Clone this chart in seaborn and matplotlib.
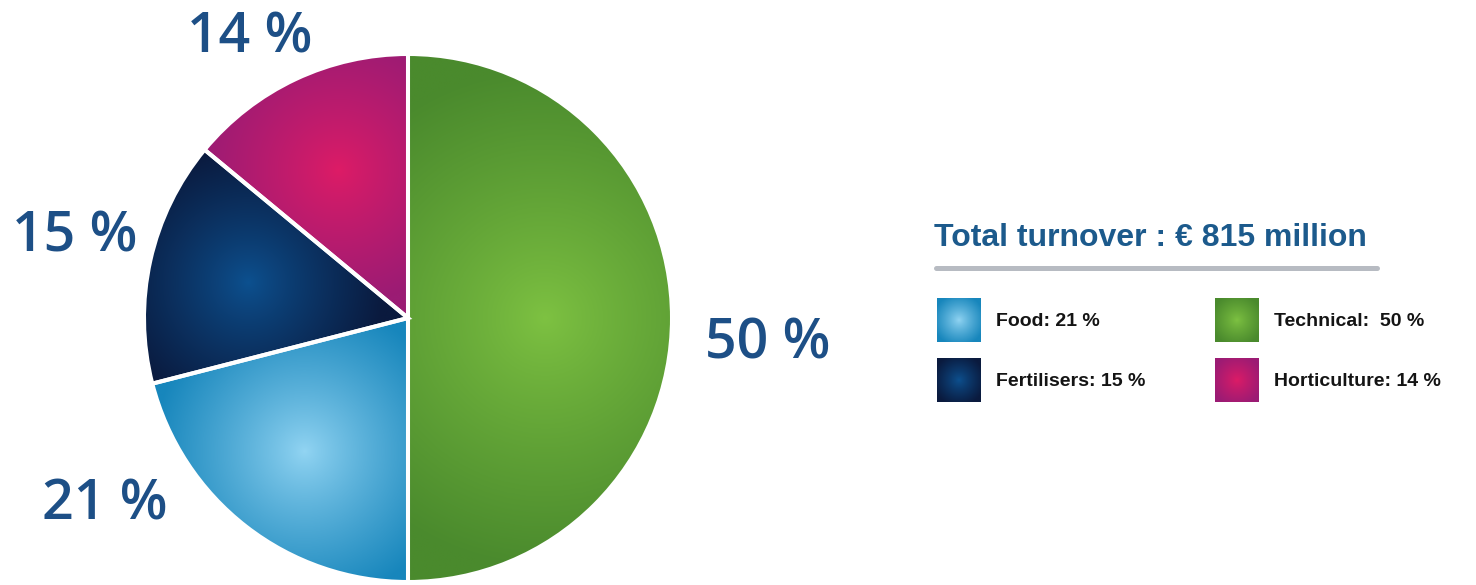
import numpy as np
import matplotlib
matplotlib.use("Agg")
import matplotlib.pyplot as plt
from matplotlib.lines import Line2D
import seaborn as sns

# ---- data -------------------------------------------------------------
categories = ["Technical", "Food", "Fertilisers", "Horticulture"]
shares = [50, 21, 15, 14]            # % of turnover
total_turnover = 815                 # € million
label_gaps = [2, 1, 1, 1]            # spaces after the colon in the key

# ---- styling ----------------------------------------------------------
centre_colors = ["#7ec242", "#93d5f3", "#0d5190", "#de1b66"]
edge_colors = ["#4a8a2d", "#1786bc", "#0a1a3e", "#9b1c74"]
spot_radius = [0.52, 0.64, 0.62, 0.62]   # where each slice is brightest
spread = [0.95, 0.58, 0.52, 0.52]        # fall-off distance of the highlight
label_xy = [(1.364, -0.152), (-1.148, -0.765), (-1.261, 0.25), (-0.598, 1.004)]
label_color = "#1d4f86"
title_color = "#1c5a8c"

sns.set_theme(style="white")
plt.rcParams["font.family"] = ["Liberation Sans", "DejaVu Sans"]

W, H = 1476, 585
fig = plt.figure(figsize=(W / 100, H / 100), dpi=100)
fig.patch.set_facecolor("white")

# pie axes: centre (408, 318) px, radius 264 px
cx, cy, R = 408, 318, 264
ax = fig.add_axes([(cx - R) / W, (H - cy - R) / H, 2 * R / W, 2 * R / H])
wedges, _ = ax.pie(shares, startangle=90, counterclock=False, radius=1,
                   colors=centre_colors,
                   wedgeprops=dict(linewidth=2.9, edgecolor="white"))
ax.set_xlim(-1, 1)
ax.set_ylim(-1, 1)
ax.set_aspect("equal")
ax.axis("off")

n = 700
ext = 1.03
xs = np.linspace(-ext, ext, n)
X, Y = np.meshgrid(xs, xs)


def radial_rgba(light, dark, d, reach, power=0.85):
    cmap = sns.blend_palette([light, dark], as_cmap=True)
    t = np.clip(d / reach, 0, 1) ** power
    return cmap(t)


for i, w in enumerate(wedges):
    mid = np.deg2rad((w.theta1 + w.theta2) / 2)
    sx, sy = spot_radius[i] * np.cos(mid), spot_radius[i] * np.sin(mid)
    d = np.hypot(X - sx, Y - sy)
    img = radial_rgba(centre_colors[i], edge_colors[i], d, spread[i])
    im = ax.imshow(img, extent=[-ext, ext, -ext, ext], origin="lower",
                   interpolation="bilinear", zorder=1)
    im.set_clip_path(w)
    w.set_facecolor("none")
    w.set_zorder(3)

# percentage labels around the pie
for i, v in enumerate(shares):
    ax.text(label_xy[i][0], label_xy[i][1], f"{v} %", ha="center",
            va="baseline", fontsize=40, color=label_color, clip_on=False,
            family=["Open Sans", "DejaVu Sans"], fontweight="semibold")

# ---- key ---------------------------------------------------------------
fig.text(934 / W, 1 - 246 / H, f"Total turnover : € {total_turnover} million",
         fontsize=23, fontweight="bold", color=title_color, va="baseline")
fig.add_artist(Line2D([936 / W, 1377 / W], [1 - 268 / H] * 2,
                      transform=fig.transFigure, color="#b7bbc2", lw=3.6))

# key slots: (left px, top px) for Technical, Food, Fertilisers, Horticulture
key_slots = [(1215, 298), (937, 298), (937, 358), (1215, 358)]
sw, sh = 44, 44
g = np.linspace(-1, 1, 80)
GX, GY = np.meshgrid(g, g)
for i, cat in enumerate(categories):
    x0, y0 = key_slots[i]
    sax = fig.add_axes([x0 / W, 1 - (y0 + sh) / H, sw / W, sh / H])
    sax.imshow(radial_rgba(centre_colors[i], edge_colors[i],
                           np.hypot(GX, GY), 1.2),
               extent=[-1, 1, -1, 1], interpolation="bilinear")
    sax.axis("off")
    fig.text((x0 + sw + 15) / W, 1 - (y0 + sh / 2 + 1) / H,
             f"{cat}:{' ' * label_gaps[i]}{shares[i]} %",
             fontsize=14, fontweight="bold", color="#141414",
             ha="left", va="center")

fig.savefig("out.png", dpi=100, facecolor="white")
